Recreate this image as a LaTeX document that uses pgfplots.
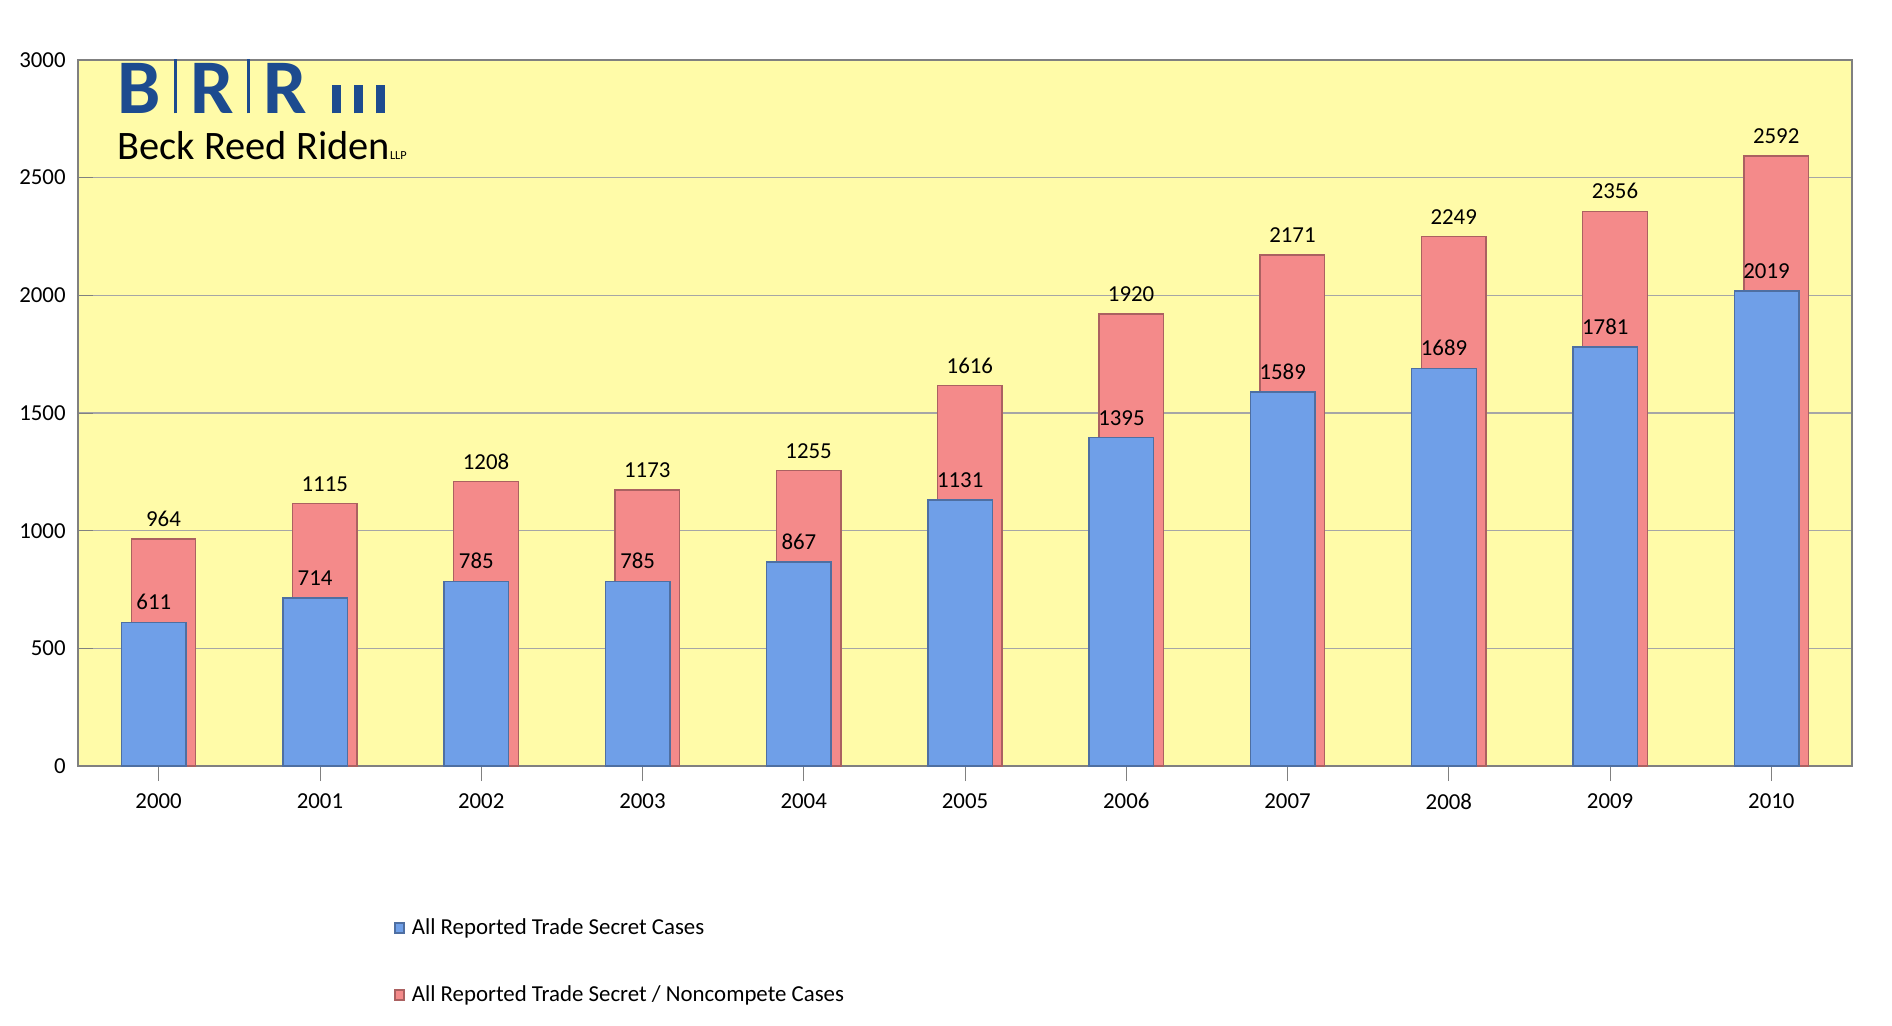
\documentclass[border=0pt]{standalone}
\usepackage{pgfplots}
\pgfplotsset{compat=1.18}
\usepackage{fontspec}
\setmainfont{Carlito}
\definecolor{bgy}{HTML}{FFFBA8}
\definecolor{bblue}{HTML}{6F9FE8}
\definecolor{rred}{HTML}{F48A8A}
\definecolor{logob}{HTML}{1D4B8F}
\begin{document}
\begin{tikzpicture}
\begin{axis}[
  width=17.74cm, height=7.06cm, scale only axis,
  ymin=0, ymax=3000, xmin=-0.5, xmax=10.5,
  ytick={0,500,...,3000},
  xtick=data,
  xticklabels={2000,2001,2002,2003,2004,2005,2006,2007,2008,2009,2010},
  ymajorgrids, grid style={gray!70},
  axis background/.style={fill=bgy},
  axis line style={gray},
  tick style={gray}, xtick pos=bottom, ytick pos=left,
  tick label style={font=\fontsize{6.5}{8}\selectfont},
  /pgf/number format/assume math mode=true,
  /pgf/number format/1000 sep={},
  ybar, bar width=0.4,
  nodes near coords,
  every node near coord/.append style={font=\fontsize{6.5}{8}\selectfont, black},
  legend style={at={(0.172,-0.195)}, anchor=north west, draw=none, fill=none,
    font=\fontsize{6.5}{8}\selectfont, row sep=9pt},
  legend cell align=left, reverse legend,
  legend image code/.code={\fill[#1] (0cm,-0.04cm) rectangle (0.09cm,0.06cm);},
]
\addplot[fill=rred, draw=rred!70!black, bar shift=0.03] coordinates {
(0,964)(1,1115)(2,1208)(3,1173)(4,1255)(5,1616)(6,1920)(7,2171)(8,2249)(9,2356)(10,2592)};
\addlegendentry{All Reported Trade Secret / Noncompete Cases}
\addplot[fill=bblue, draw=bblue!70!black, bar shift=-0.03] coordinates {
(0,611)(1,714)(2,785)(3,785)(4,867)(5,1131)(6,1395)(7,1589)(8,1689)(9,1781)(10,2019)};
\addlegendentry{All Reported Trade Secret Cases}
\node[anchor=north west, font=\fontsize{22}{22}\selectfont\bfseries, text=logob, inner sep=0pt]
  at (rel axis cs:0.022,1.005) {B\,\rule[0pt]{1pt}{16pt}\,R\,\rule[0pt]{1pt}{16pt}\,R\,\,\rule{2.5pt}{8pt}\,\rule{2.5pt}{8pt}\,\rule{2.5pt}{8pt}};
\node[anchor=north west, font=\fontsize{11.5}{12}\selectfont, inner sep=0pt]
  at (rel axis cs:0.022,0.9) {Beck Reed Riden{\fontsize{3.5}{4}\selectfont LLP}};
\end{axis}
\pgfresetboundingbox
\path (-0.78cm,-2.59cm) rectangle (18.14cm,7.66cm);
\end{tikzpicture}
\end{document}
